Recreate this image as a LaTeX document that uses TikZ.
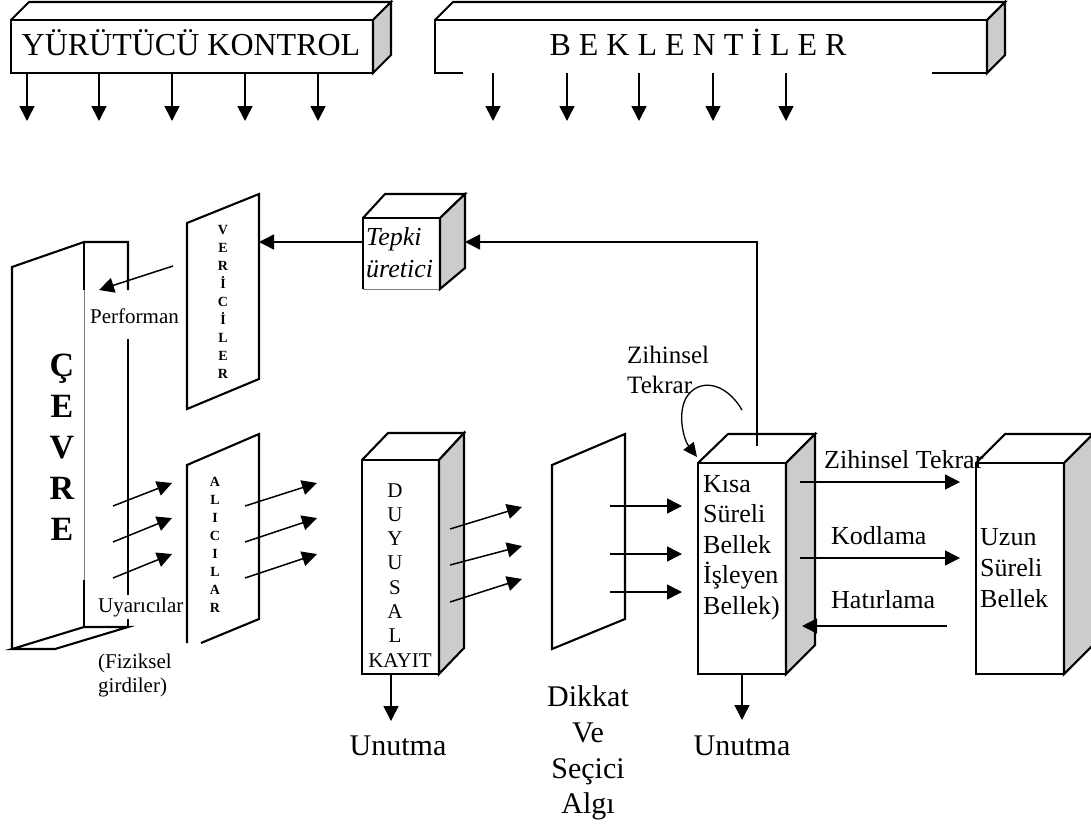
\documentclass[tikz,border=0pt]{standalone}
\usepackage{fontspec}
\setmainfont{Liberation Serif}
\usetikzlibrary{arrows.meta}
\definecolor{sidegray}{RGB}{204,204,204}
\newcommand\myfs[2]{\fontsize{#1}{#2}\selectfont}
\begin{document}
\begin{tikzpicture}[x=1pt,y=-1pt,
  edge/.style={line width=2.1pt, line join=miter},
  faint/.style={line width=0.7pt, draw=gray},
  shade/.style={fill=sidegray, draw=black, line width=2.1pt, line join=miter},
  conn/.style={line width=1.5pt, -{Triangle[length=15pt,width=15pt]}},
  loopc/.style={line width=1.3pt, -{Triangle[length=14pt,width=13pt]}},
  lbl/.style={inner sep=0pt, anchor=base west},
  clbl/.style={inner sep=0pt, anchor=base},
  big/.style={font={\myfs{32}{38}}},
  mid/.style={font={\myfs{26}{30}}},
  unu/.style={font={\myfs{30}{36}}},
  sml/.style={font={\myfs{21}{24}}},
  vert/.style={font={\myfs{14}{16}\bfseries}},
  cev/.style={font={\myfs{34}{40}\bfseries}}
]
\fill[white] (0,0) rectangle (1091,827);
\useasboundingbox (0,0) rectangle (1091,827);

% ---------- top box: YURUTUCU KONTROL
\draw[edge, fill=white] (11,20) rectangle (373,73);
\draw[edge] (11,20) -- (29,2) -- (391,2) -- (373,20);
\draw[shade] (373,20) -- (391,2) -- (391,55) -- (373,73) -- cycle;
\node[big, clbl] (yurutucu) at (191,55) {YÜRÜTÜCÜ KONTROL};
\foreach \x [count=\i] in {27,99,172,245,318} {
  \coordinate (ya\i) at (\x,73); \coordinate (yb\i) at (\x,121);
  \draw[conn] (ya\i) -- (yb\i);
}

% ---------- top box: BEKLENTILER
\draw[edge] (463,73) -- (435,73) -- (435,20) -- (987,20) -- (987,73) -- (932,73);
\draw[edge] (435,20) -- (453,2) -- (1005,2) -- (987,20);
\draw[shade] (987,20) -- (1005,2) -- (1005,55) -- (987,73) -- cycle;
\node[big, clbl] (beklentiler) at (698,55) {B E K L E N T İ L E R};
\foreach \x [count=\i] in {493,567,639,713,786} {
  \coordinate (ba\i) at (\x,73); \coordinate (bb\i) at (\x,121);
  \draw[conn] (ba\i) -- (bb\i);
}

% ---------- CEVRE box
\draw[edge] (128,290) -- (128,242) -- (84,242) -- (12,267) -- (12,649);
\draw[edge] (128,339) -- (128,627);
\draw[edge] (12,649) -- (55,649) -- (128,627) -- (84,627) -- cycle;
\draw[edge] (84,242) -- (84,290);
\draw[faint] (84,290) -- (84,580);
\draw[edge] (84,580) -- (84,627);
\foreach \l/\y [count=\i] in {Ç/376,E/417,V/458,R/499,E/540} {
  \node[cev, clbl] (cevre\i) at (62,\y) {\l};
}
\node[sml, lbl] (performan) at (90,323) {Performan};
\node[sml, lbl, fill=white, inner ysep=2pt] (uyaricilar) at (98,612) {Uyarıcılar};
\node[sml, lbl] (fiziksel) at (98,668) {(Fiziksel};
\node[sml, lbl] (girdiler) at (98,692) {girdiler)};

% ---------- VERICILER panel
\draw[edge, fill=white] (187,223) -- (259,194) -- (259,379) -- (187,409) -- cycle;
\foreach \l [count=\i] in {V,E,R,İ,C,İ,L,E,R} {
  \node[vert, clbl] (ver\i) at (223,{234+18*(\i-1)}) {\l};
}

% ---------- ALICILAR panel
\draw[edge] (201,643) -- (259,619) -- (259,434) -- (187,465) -- (187,643);
\foreach \l [count=\i] in {A,L,I,C,I,L,A,R} {
  \node[vert, clbl] (ali\i) at (215,{486+18.1*(\i-1)}) {\l};
}

% ---------- Tepki uretici box
\draw[edge, fill=white] (363,289) -- (363,218) -- (440,218) -- (440,289);
\draw[faint] (363,289) -- (440,289);
\draw[edge] (363,218) -- (385,194) -- (465,194) -- (440,218);
\draw[shade] (440,218) -- (465,194) -- (465,268) -- (440,289) -- cycle;
\node[lbl, font={\myfs{26}{30}\itshape}] (tepki) at (366,245) {Tepki};
\node[lbl, font={\myfs{26}{30}\itshape}] (uretici) at (366,277) {üretici};

% ---------- Duyusal Kayit box
\draw[edge, fill=white] (362,460) rectangle (439,674);
\draw[edge] (362,460) -- (388,433) -- (464,433) -- (439,460);
\draw[shade] (439,460) -- (464,433) -- (464,648) -- (439,674) -- cycle;
\foreach \l [count=\i] in {D,U,Y,U,S,A,L} {
  \node[sml, clbl] (duy\i) at (395,{497+24.3*(\i-1)}) {\l};
}
\node[sml, clbl] (kayit) at (400,667) {KAYIT};

% ---------- Dikkat panel
\draw[edge, fill=white] (552,465) -- (625,434) -- (625,619) -- (552,649) -- cycle;
\node[unu, clbl] (dikkat) at (588,706) {Dikkat};
\node[unu, clbl] (ve) at (588,742) {Ve};
\node[unu, clbl] (secici) at (588,778) {Seçici};
\node[unu, clbl] (algi) at (588,813) {Algı};

% ---------- Kisa sureli bellek box
\draw[edge, fill=white] (698,463) rectangle (786,674);
\draw[edge] (698,463) -- (728,434) -- (815,434) -- (786,463);
\draw[shade] (786,463) -- (815,434) -- (815,645) -- (786,674) -- cycle;
\foreach \t/\y [count=\i] in {Kısa/492,Süreli/522,Bellek/553,İşleyen/583,Bellek)/614} {
  \node[mid, lbl] (ksb\i) at (703,\y) {\t};
}

% ---------- Uzun sureli bellek box
\draw[edge] (1064,485) -- (1064,463) -- (976,463) -- (976,674) -- (1064,674) -- (1064,655);
\draw[faint] (1064,485) -- (1064,655);
\draw[edge] (976,463) -- (1005,434) -- (1093,434) -- (1064,463);
\draw[shade] (1064,463) -- (1093,434) -- (1093,645) -- (1064,674) -- cycle;
\foreach \t/\y [count=\i] in {Uzun/545,Süreli/576,Bellek/607} {
  \node[mid, lbl] (usb\i) at (980,\y) {\t};
}

% ---------- connectors
% feedback
\coordinate (fbA) at (757,446);
\coordinate (fbB) at (757,242);
\coordinate (fbC) at (465,242);
\draw[conn] (fbA) -- (fbB) -- (fbC);
\coordinate (tpA) at (363,242);
\coordinate (tpB) at (259,242);
\draw[conn] (tpA) -- (tpB);
\coordinate (vcA) at (173,266);
\coordinate (vcB) at (99,290);
\draw[conn] (vcA) -- (vcB);

% environment -> receptors -> sensory
\foreach \ya/\yb [count=\i] in {506/483,542/518,578/554} {
  \coordinate (ea\i) at (113,\ya); \coordinate (eb\i) at (172,\yb);
  \draw[conn] (ea\i) -- (eb\i);
  \coordinate (ra\i) at (245,\ya); \coordinate (rb\i) at (317,\yb);
  \draw[conn] (ra\i) -- (rb\i);
}
\foreach \ya/\yb [count=\i] in {529/507,565/546,602/579} {
  \coordinate (da\i) at (450,\ya); \coordinate (db\i) at (522,\yb);
  \draw[conn] (da\i) -- (db\i);
}
\foreach \y [count=\i] in {506,554,592} {
  \coordinate (sa\i) at (610,\y); \coordinate (sb\i) at (682,\y);
  \draw[conn] (sa\i) -- (sb\i);
}

% forgetting
\coordinate (u1a) at (391,674); \coordinate (u1b) at (391,721);
\draw[conn] (u1a) -- (u1b);
\node[unu, clbl] (unutma1) at (398,755) {Unutma};
\coordinate (u2a) at (742,674); \coordinate (u2b) at (742,720);
\draw[conn] (u2a) -- (u2b);
\node[unu, clbl] (unutma2) at (742,755) {Unutma};

% rehearsal loop
\node[lbl, font={\myfs{25}{30}}] (zih1) at (627,363) {Zihinsel};
\node[lbl, font={\myfs{25}{30}}] (zih2) at (627,393) {Tekrar};
\coordinate (lpA) at (742,410);
\coordinate (lpB) at (697,457);
\draw[loopc] (lpA) .. controls (725,381) and (698,378) .. (686,398) .. controls (677,415) and (684,440) .. (lpB);

% STM <-> LTM
\coordinate (k1a) at (800,482); \coordinate (k1b) at (960,482);
\draw[conn] (k1a) -- (k1b);
\coordinate (k2a) at (800,558); \coordinate (k2b) at (960,558);
\draw[conn] (k2a) -- (k2b);
\coordinate (k3a) at (947,626); \coordinate (k3b) at (802,626);
\draw[conn] (k3a) -- (k3b);
\node[mid, lbl] (zt) at (824,468) {Zihinsel Tekrar};
\node[mid, lbl] (kod) at (831,544) {Kodlama};
\node[mid, lbl] (hat) at (831,608) {Hatırlama};
\end{tikzpicture}
\end{document}
